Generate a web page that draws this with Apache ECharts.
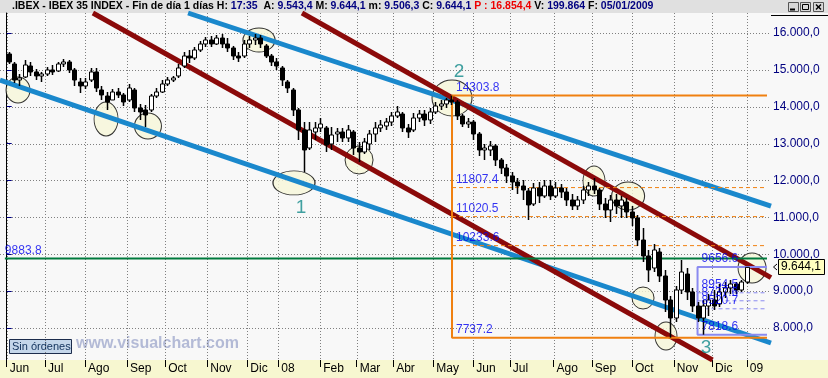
<!DOCTYPE html>
<html>
<head>
<meta charset="utf-8">
<script src="https://cdn.jsdelivr.net/npm/echarts@6/dist/echarts.min.js"></script>
<style>
  html, body { margin: 0; padding: 0; background: #f8f8f8; }
  #chart { width: 828px; height: 378px; }
</style>
</head>
<body>
<div id="chart"></div>
<script>
// eje X: indice de sesion del primer dia de cada mes (Jun 2007 = 0)
const monthIdx = [0, 21, 43, 66, 87, 110, 132, 149, 172, 192, 212, 234, 256, 276, 300, 321, 343, 366, 387, 406];
const monthLabels = ["Jun", "Jul", "Ago", "Sep", "Oct", "Nov", "Dic", "08", "Feb", "Mar", "Abr", "May", "Jun", "Jul", "Ago", "Sep", "Oct", "Nov", "Dic", "09"];
const priceTicks = [8000, 9000, 10000, 11000, 12000, 13000, 14000, 15000, 16000];

// velas (cada una agrupa 3 sesiones)
const barOpen = [15431,15159,14725,14807,15105,14943,14834,14888,14997,14970,15159,15214,14997,14671,14563,14725,14943,14454,14291,14183,
  14400,14319,14183,14454,13966,13912,13912,14291,14400,14617,14725,14834,15105,15376,15322,15539,15702,15810,15702,15864,
  15702,15593,15376,15376,15702,15810,15864,15648,15376,15214,15051,14671,14454,13912,13370,12881,13315,13424,13424,12990,
  13261,13315,13153,13315,12881,12773,12990,13261,13424,13478,13586,13749,13803,13424,13370,13695,13803,13641,13858,14020,
  14075,14183,14129,13749,13532,13586,13261,12827,12827,12936,12556,12339,12122,11959,11851,11715,11363,11797,11580,11851,
  11580,11797,11688,11471,11309,11471,11742,11851,11742,11363,11200,11471,11309,11417,11146,10983,10386,9953,9627,10061,
  9410,8759,8271,9030,9464,8976,8596,8271,8596,8759,8651,8976,9085,9193,9030,9247];
const barClose = [15214,14725,14780,15132,14943,14834,14888,14997,14943,15159,15214,14997,14725,14563,14671,14943,14508,14319,14129,14400,
  14319,14129,14508,13966,13858,13776,14291,14400,14617,14725,14780,15051,15376,15322,15539,15702,15810,15702,15864,15702,
  15593,15376,15322,15702,15810,15864,15702,15376,15214,15105,14725,14508,13912,13370,12827,13370,13424,13532,12963,13234,
  13315,13153,13370,12881,12773,13044,13261,13424,13505,13586,13749,13858,13424,13315,13695,13803,13641,13858,14020,14075,
  14183,14129,13749,13532,13586,13261,12827,12881,12936,12556,12339,12122,11959,11851,11742,11336,11797,11580,11851,11580,
  11797,11688,11471,11309,11471,11742,11851,11742,11363,11200,11471,11309,11471,11146,10983,10386,9953,9573,10115,9410,
  8759,8271,9030,9518,8976,8596,8271,8596,8759,8596,8976,9085,9193,9030,9247,9644.1];
const barLow = [15159,14644,14563,14780,14834,14725,14671,14834,14861,14943,15078,14915,14563,14373,14481,14671,14400,14183,13912,14183,
  14237,14020,14129,13858,13641,13451,13858,14237,14373,14563,14671,14780,15051,15186,15268,15485,15620,15620,15675,15593,
  15485,15268,15214,15322,15593,15675,15593,15322,15105,14997,14563,14373,13749,13098,12230,12827,13098,13315,12773,12827,
  13044,13044,13044,12692,12502,12719,12827,13044,13315,13370,13478,13695,13315,13153,13315,13586,13478,13532,13803,13912,
  13966,14047,13641,13451,13424,13098,12664,12556,12664,12393,12176,11932,11742,11634,11471,10929,11309,11390,11526,11471,
  11526,11526,11309,11200,11200,11363,11580,11634,11200,10983,10874,11091,10983,10983,10766,10223,9790,9247,9518,9247,
  8434,7737.2,8163,8922,8759,8434,8163,7818.6,8325,8488,8569,8813,8922,8922,8976,9193];
const barHigh = [15485,15214,14888,15268,15214,15024,14943,15078,15132,15214,15295,15268,15051,14780,14780,15051,15051,14563,14400,14481,
  14508,14373,14617,14508,14075,14047,14346,14508,14725,14807,14834,15159,15485,15539,15620,15783,15891,15919,15946,15973,
  15864,15648,15485,15810,15919,15973,15946,15702,15431,15322,15105,14725,14508,13966,13586,13586,13586,13695,13478,13451,
  13424,13424,13505,13370,13044,13153,13370,13586,13641,13695,13858,14020,13858,13532,13830,13912,13912,13966,14129,14183,
  14237,14303.8,14183,13803,13695,13641,13315,12990,13071,12990,12610,12447,12230,12068,12014,11797,11932,11959,12014,12014,
  11959,11905,11797,11634,11580,11851,11959,12068,11797,11526,11607,11634,11580,11526,11309,11064,10712,10115,10278,10169,
  9573,8868,9139,9844,9627,9085,8705,8759,8922,9030,9193,9247,9301,9247,9301,9644.1];
const lastClose = 9644.1;

// canales (extremos en [sesion, precio])
const blueChannel = [[[-3.7, 14725], [419.3, 7593]], [[99.5, 16542], [419.3, 11308]]];
const redChannel = [[[47.3, 16542], [387.2, 7132]], [[162, 16542], [419.3, 9367]]];

// niveles
const supportLevel = 9883.8;
const fiboAStart = 244.3;
const fiboALevels = [14303.8, 11807.4, 11020.5, 10233.6, 7737.2];
const fiboBStart = 379;
const fiboBLevels = [9656.6, 8954.5, 8737.6, 8520.7, 7818.6];
const levelsEnd = 417.1;

// marcas (elipses) y numeros de onda
const circleIdx = [6.2, 54.5, 77.5, 138.4, 157.6, 193.3, 244.3, 322.2, 340.9, 349.1, 361.7, 408.9];
const circleVal = [14454, 13668, 13478, 15810, 11932, 12556, 14237, 11986, 11580, 8813, 7783, 9627];
const waveIdx = [161.5, 248.2, 383.7];
const waveVal = [11268, 14956, 7471];
const waveLabels = ["1", "2", "3"];

const circleSizes = [[24, 26], [24, 34], [27, 26], [32, 24], [42, 24], [28, 28], [40, 36], [22, 30], [33, 28], [22, 22], [22, 28], [28, 30]];
const FONT = "Liberation Sans, Arial, sans-serif";
const BLUE = "#1a88cc", RED = "#8b0a0a", ORANGE = "#f08010", GREEN = "#007a3d", LILA = "#8a8af0";
const yMin = 7132, yMax = 16542, xMin = -3.68, xMax = 419.3;

function esNumber(v, dec) {
  const parts = Math.abs(v).toFixed(dec).split(".");
  return parts[0].replace(/\B(?=(\d{3})+(?!\d))/g, ".") + (dec ? "," + parts[1] : "");
}

function segment(name, pts, color, width, type, z) {
  return {
    name: name, type: "line", data: pts, symbol: "none", silent: true, z: z || 3,
    lineStyle: { color: color, width: width, type: type || "solid" },
    animation: false,
  };
}

const series = [];

// elipses
series.push({
  name: "marcas", type: "scatter", silent: true, z: 2,
  data: circleIdx.map((x, i) => ({ value: [x, circleVal[i]], symbolSize: circleSizes[i] })),
  symbol: "circle",
  itemStyle: { color: "#f6f6d8", borderColor: "#000", borderWidth: 1 },
  animation: false,
});

blueChannel.forEach((l, i) => series.push(segment("azul" + i, l, BLUE, 5)));
redChannel.forEach((l, i) => series.push(segment("rojo" + i, l, RED, 5)));

series.push(segment("soporte", [[-1, supportLevel], [levelsEnd, supportLevel]], GREEN, 2));

const nA = fiboALevels.length - 1;
series.push(segment("fiboA", [[levelsEnd, fiboALevels[0]], [fiboAStart, fiboALevels[0]], [fiboAStart, fiboALevels[nA]], [levelsEnd, fiboALevels[nA]]], ORANGE, 2));
fiboALevels.slice(1, nA).forEach((v, i) => series.push(segment("fiboA" + i, [[fiboAStart, v], [levelsEnd, v]], ORANGE, 1, [4, 3])));

const nB = fiboBLevels.length - 1;
series.push(segment("fiboB", [[levelsEnd, fiboBLevels[0]], [fiboBStart, fiboBLevels[0]], [fiboBStart, fiboBLevels[nB]], [levelsEnd, fiboBLevels[nB]]], LILA, 2));
fiboBLevels.slice(1, nB).forEach((v, i) => series.push(segment("fiboB" + i, [[fiboBStart, v], [levelsEnd, v]], LILA, 1, [4, 3])));

// velas
series.push({
  name: "IBEX", type: "custom", z: 5,
  data: barOpen.map((o, i) => [i * 3 + 1, o, barClose[i], barLow[i], barHigh[i]]),
  encode: { x: 0, y: [1, 2, 3, 4] },
  renderItem: function (params, api) {
    const x = api.value(0);
    const o = api.coord([x, api.value(1)]);
    const c = api.coord([x, api.value(2)]);
    const lo = api.coord([x, api.value(3)]);
    const hi = api.coord([x, api.value(4)]);
    const px = Math.round(o[0]) + 0.5;
    const up = api.value(2) >= api.value(1);
    const bodyTop = Math.min(o[1], c[1]);
    const h = Math.max(1, Math.abs(o[1] - c[1]));
    return {
      type: "group",
      children: [
        { type: "line", shape: { x1: px, y1: hi[1], x2: px, y2: lo[1] }, style: { stroke: "#000", lineWidth: 1.5 } },
        { type: "rect", shape: { x: px - 2, y: bodyTop, width: 4, height: h }, style: { fill: up ? "#fff" : "#000", stroke: "#000", lineWidth: 1 } },
      ],
    };
  },
  animation: false,
});

// rotulos de niveles
const levelLabels = [{ value: [-3.2, supportLevel], text: supportLevel.toFixed(1) }]
  .concat(fiboALevels.map((v) => ({ value: [fiboAStart, v], text: v.toFixed(1) })))
  .concat(fiboBLevels.map((v) => ({ value: [fiboBStart, v], text: v.toFixed(1) })));
series.push({
  name: "rotulos", type: "scatter", symbolSize: 0, silent: true, z: 6,
  data: levelLabels.map((d) => ({ value: d.value, label: { formatter: d.text } })),
  label: { show: true, position: "right", distance: 4, offset: [0, -8], color: "#0000f0", fontSize: 12, fontFamily: FONT },
  animation: false,
});

series.push({
  name: "ondas", type: "scatter", symbolSize: 0, silent: true, z: 6,
  data: waveIdx.map((x, i) => ({ value: [x, waveVal[i]], label: { formatter: waveLabels[i] } })),
  label: { show: true, position: "inside", color: "#128a8a", fontSize: 19, fontFamily: FONT },
  animation: false,
});

const chart = echarts.init(document.getElementById("chart"));

const baseGraphic = [
  { type: "rect", z: -10, shape: { x: 0, y: 0, width: 828, height: 13 }, style: { fill: "#e0e0e0" } },
  { type: "rect", z: -10, shape: { x: 0, y: 360, width: 828, height: 18 }, style: { fill: "#f7f7d0" } },
  { type: "line", shape: { x1: 771, y1: 15.5, x2: 828, y2: 15.5 }, style: { stroke: "#000", lineWidth: 1 } },
  // botones de ventana
  { type: "rect", shape: { x: 788.5, y: 2.5, width: 10, height: 9 }, style: { fill: "#d8d8d8", stroke: "#555" } },
  { type: "line", shape: { x1: 790, y1: 9.5, x2: 795, y2: 9.5 }, style: { stroke: "#000", lineWidth: 2 } },
  { type: "rect", shape: { x: 800.5, y: 2.5, width: 10, height: 9 }, style: { fill: "#d8d8d8", stroke: "#555" } },
  { type: "rect", shape: { x: 802.5, y: 4.5, width: 6, height: 5 }, style: { fill: "none", stroke: "#000", lineWidth: 1 } },
  { type: "rect", shape: { x: 813.5, y: 2.5, width: 10, height: 9 }, style: { fill: "#d8d8d8", stroke: "#555" } },
  { type: "line", shape: { x1: 816, y1: 4.5, x2: 821, y2: 9.5 }, style: { stroke: "#000", lineWidth: 1.5 } },
  { type: "line", shape: { x1: 821, y1: 4.5, x2: 816, y2: 9.5 }, style: { stroke: "#000", lineWidth: 1.5 } },
  // pie
  { type: "rect", shape: { x: 9.5, y: 339.5, width: 62, height: 14 }, style: { fill: "#c4d6ea", stroke: "#1c2c4c", lineWidth: 1 } },
  { type: "text", x: 12, y: 341, style: { text: "Sin órdenes", fill: "#10305a", font: "11px " + FONT } },
  { type: "text", x: 76, y: 336, style: { text: "www.visualchart.com", fill: "#b3bad6", font: "bold 16px " + FONT } },
];

chart.setOption({
  backgroundColor: "#f8f8f8",
  animation: false,
  title: {
    left: 12, top: 1, padding: 0,
    text: "{k|.IBEX - IBEX 35 INDEX - Fin de día 1 días H: }{v|17:35}{k|  A: }{v|9.543,4}{k| M: }{v|9.644,1}{k| m: }{v|9.506,3}{k| C: }{v|9.644,1}{p| P : 16.854,4}{k| V: }{v|199.864}{k| F: }{v|05/01/2009}",
    textStyle: {
      fontSize: 10.5, fontFamily: FONT,
      rich: {
        k: { fontSize: 10.5, fontFamily: FONT, color: "#000" },
        v: { fontSize: 10.5, fontFamily: FONT, color: "#000080" },
        p: { fontSize: 10.5, fontFamily: FONT, color: "#ee0000" },
      },
    },
  },
  grid: { left: 0, right: 57, top: 13, bottom: 18 },
  xAxis: {
    type: "value", min: xMin, max: xMax,
    axisLine: { show: false },
    splitLine: { show: false },
    axisTick: { show: true, customValues: monthIdx, length: 7, lineStyle: { color: "#000", width: 1 } },
    axisLabel: {
      customValues: monthIdx, align: "left", margin: 3, padding: [0, 0, 0, 3],
      color: "#000", fontSize: 12, fontFamily: FONT,
      formatter: (v) => monthLabels[monthIdx.indexOf(v)] || "",
    },
  },
  yAxis: {
    type: "value", position: "right", min: yMin, max: yMax,
    axisLine: { show: true, lineStyle: { color: "#000", width: 1 } },
    splitLine: { show: false },
    axisTick: { show: true, customValues: priceTicks, length: 5, lineStyle: { color: "#000080" } },
    axisLabel: {
      customValues: priceTicks, margin: 2, color: "#000080", fontSize: 12, fontFamily: FONT,
      formatter: (v) => esNumber(v, 1),
    },
  },
  graphic: baseGraphic,
  series: series,
});

// rejilla punteada y etiqueta del ultimo precio, situadas con las escalas de los ejes
const toX = (v) => chart.convertToPixel({ xAxisIndex: 0 }, v);
const toY = (v) => chart.convertToPixel({ yAxisIndex: 0 }, v);
const plotL = toX(xMin), plotR = toX(xMax), plotT = toY(yMax), plotB = toY(yMin);
const gridStyle = { stroke: "#808080", lineWidth: 1, lineDash: [1, 2] };
const gridLines = monthIdx.map((v) => {
  const gx = Math.round(toX(v)) + 0.5;
  return { type: "line", z: 0, silent: true, shape: { x1: gx, y1: plotT, x2: gx, y2: plotB }, style: Object.assign({}, gridStyle) };
}).concat(priceTicks.map((v) => {
  const gy = Math.round(toY(v)) + 0.5;
  return { type: "line", z: 0, silent: true, shape: { x1: plotL, y1: gy, x2: plotR, y2: gy }, style: Object.assign({}, gridStyle) };
}));

const py = Math.round(toY(lastClose));
chart.setOption({
  graphic: baseGraphic.concat(gridLines).concat([
    { type: "polyline", shape: { points: [[777, py - 3], [773.5, py], [777, py + 3]] }, style: { stroke: "#000", fill: "none", lineWidth: 1 } },
    { type: "rect", shape: { x: 778.5, y: py - 7.5, width: 46, height: 15 }, style: { fill: "#ffffc0", stroke: "#000", lineWidth: 1 } },
    { type: "text", x: 781, y: py - 6, style: { text: esNumber(lastClose, 1), fill: "#000", font: "12px " + FONT } },
  ]),
});
</script>
</body>
</html>
